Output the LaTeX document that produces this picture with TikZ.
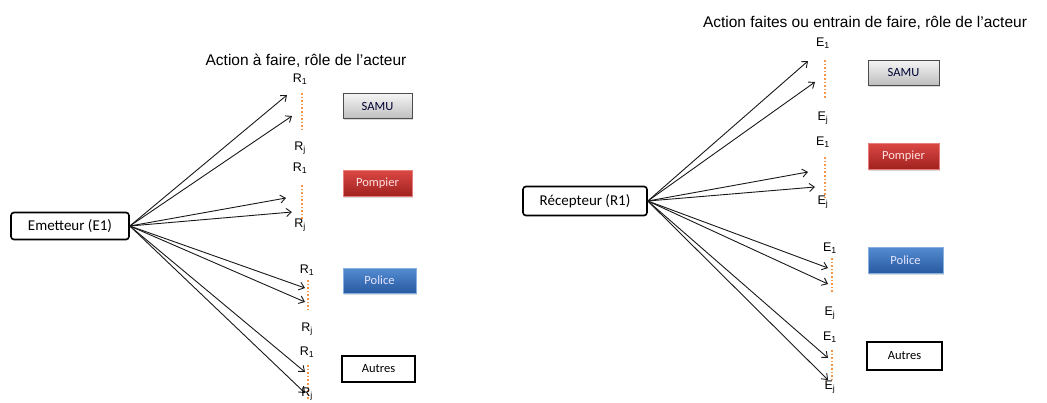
\documentclass[tikz,border=0pt]{standalone}
\usepackage{fontspec}
\setmainfont{Liberation Sans}
\newfontfamily\boxfont{Carlito}
\usetikzlibrary{arrows.meta, shadows}
\definecolor{dotorange}{RGB}{247,150,70}
\definecolor{samutop}{RGB}{245,245,245}
\definecolor{samubot}{RGB}{190,190,190}
\definecolor{pomptop}{RGB}{220,72,68}
\definecolor{pompbot}{RGB}{160,34,32}
\definecolor{poltop}{RGB}{84,140,210}
\definecolor{polbot}{RGB}{40,90,160}
\tikzset{
  actor/.style = {draw = black, line width = 1.6pt, rounded corners = 3pt,
    minimum width = 118pt, minimum height = 27pt, inner sep = 0pt,
    font = \boxfont\fontsize{15}{17}\selectfont},
  role/.style = {minimum width = 69pt, minimum height = 25pt, inner sep = 0pt,
    font = \boxfont\fontsize{12.5}{14}\selectfont},
  shaded role/.style = {role, drop shadow = {opacity = 0.3, shadow xshift = 1pt, shadow yshift = -1.5pt}},
  tag/.style = {inner sep = 0pt, font = \fontsize{12.5}{14}\selectfont},
  heading/.style = {inner sep = 0pt, font = \fontsize{15.5}{17}\selectfont},
  flow/.style = {draw = black!90, line width = 0.9pt, -{Straight Barb[length = 5pt, width = 8pt]}},
  orangedots/.style = {draw = dotorange, line width = 1.6pt, dotted}
}
\begin{document}
\begin{tikzpicture}[x = 1pt, y = -1pt]
\useasboundingbox (0,0) rectangle (1047,402);

% emetteur
\node[actor] (emet) at (70,226) {Emetteur (E1)};
\node[heading] (titleL) at (306,61) {Action à faire, rôle de l'acteur};
\coordinate (et1) at (287,95);
\coordinate (et2) at (292,116);
\coordinate (et3) at (286,198);
\coordinate (et4) at (292,212);
\coordinate (et5) at (305,288);
\coordinate (et6) at (305,302);
\coordinate (et7) at (305,372);
\coordinate (et8) at (305,393);
\foreach \n in {1,...,8}
  \draw[flow] (emet.east) -- (et\n);
\draw[orangedots] (302,93) -- (302,130);
\draw[orangedots] (302,185) -- (302,220);
\draw[orangedots] (308,280) -- (308,310);
\draw[orangedots] (308,365) -- (308,400);
\node[tag] (rA1) at (300,79) {R\textsubscript{1}};
\node[tag] (rAj) at (300,148) {R\textsubscript{j}};
\node[tag] (rB1) at (300,168) {R\textsubscript{1}};
\node[tag] (rBj) at (300,225) {R\textsubscript{j}};
\node[tag] (rC1) at (307,270) {R\textsubscript{1}};
\node[tag] (rCj) at (307,329) {R\textsubscript{j}};
\node[tag] (rD1) at (307,352) {R\textsubscript{1}};
\node[tag] (rDj) at (307,394) {R\textsubscript{j}};
\node[shaded role, draw = black!70, line width = 1pt, top color = samutop, bottom color = samubot, text = black!80!blue] (samuL) at (377.5,106) {SAMU};
\node[shaded role, draw = pomptop!70, top color = pomptop, bottom color = pompbot, text = white!88!red, minimum height = 26pt] (pompL) at (377.5,183) {Pompier};
\node[shaded role, draw = poltop!70, top color = poltop, bottom color = polbot, text = white!90!blue, minimum width = 73pt] (polL) at (379.5,280.5) {Police};
\node[role, draw = black, line width = 1.5pt, fill = white, minimum width = 73pt, minimum height = 26pt] (autL) at (378.5,369) {Autres};

% recepteur
\node[actor, minimum width = 124pt, minimum height = 29pt] (recep) at (585,201) {Récepteur (R1)};
\node[heading] (titleR) at (865,23) {Action faites ou entrain de faire, rôle de l'acteur};
\coordinate (rt1) at (808,61);
\coordinate (rt2) at (815,82);
\coordinate (rt3) at (808,172);
\coordinate (rt4) at (815,187);
\coordinate (rt5) at (828,268);
\coordinate (rt6) at (828,284);
\coordinate (rt7) at (828,358);
\coordinate (rt8) at (828,380);
\foreach \n in {1,...,8}
  \draw[flow] (recep.east) -- (rt\n);
\draw[orangedots] (825,60) -- (825,98);
\draw[orangedots] (825,157) -- (825,197);
\draw[orangedots] (832,258) -- (832,293);
\draw[orangedots] (832,350) -- (832,382);
\node[tag] (eA1) at (823,43) {E\textsubscript{1}};
\node[tag] (eAj) at (823,118) {E\textsubscript{j}};
\node[tag] (eB1) at (823,142) {E\textsubscript{1}};
\node[tag] (eBj) at (823,202) {E\textsubscript{j}};
\node[tag] (eC1) at (830,248) {E\textsubscript{1}};
\node[tag] (eCj) at (830,313) {E\textsubscript{j}};
\node[tag] (eD1) at (830,337) {E\textsubscript{1}};
\node[tag] (eDj) at (830,387) {E\textsubscript{j}};
\node[shaded role, draw = black!70, line width = 1pt, top color = samutop, bottom color = samubot, text = black!80!blue, minimum width = 71pt] (samuR) at (903.5,72.5) {SAMU};
\node[shaded role, draw = pomptop!70, top color = pomptop, bottom color = pompbot, text = white!88!red, minimum width = 71pt, minimum height = 26pt] (pompR) at (903.5,156) {Pompier};
\node[shaded role, draw = poltop!70, top color = poltop, bottom color = polbot, text = white!90!blue, minimum width = 75pt, minimum height = 26pt] (polR) at (905.5,260) {Police};
\node[role, draw = black, line width = 1.5pt, fill = white, minimum width = 75pt, minimum height = 28pt] (autR) at (904.5,356) {Autres};
\end{tikzpicture}
\end{document}
